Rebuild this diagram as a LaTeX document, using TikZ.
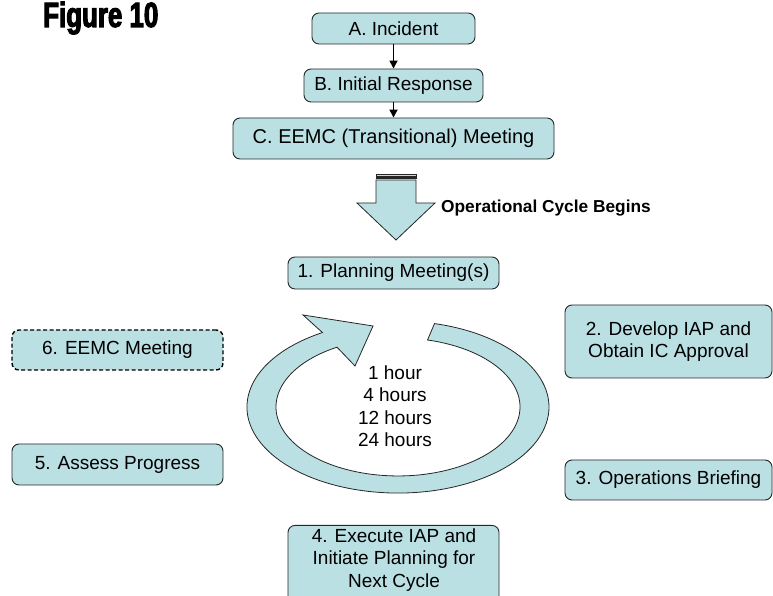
\documentclass[tikz,border=0pt]{standalone}
\usepackage{fontspec}
\setmainfont{Liberation Sans}
\newfontfamily\figfont{Liberation Sans Bold}[FakeStretch=0.74,FakeBold=3]
\usetikzlibrary{arrows.meta}
\definecolor{boxfill}{RGB}{187,224,227}
\begin{document}
\begin{tikzpicture}[x=1pt,y=1pt,
  box/.style={draw=black!85, line width=0.9pt, fill=boxfill, rounded corners=7pt,
    align=center, inner sep=0pt, font=\fontsize{19}{22.5}\selectfont},
  dashbox/.style={box, dashed, dash pattern=on 4pt off 2.5pt, line width=1.4pt, draw=black},
  plain/.style={align=center, inner sep=0pt, font=\fontsize{19}{22.5}\selectfont},
  flow/.style={-{Triangle[length=8pt,width=8pt]}, line width=1.7pt},
  solidshape/.style={draw=black!85, line width=0.8pt, fill=boxfill}]
\useasboundingbox (0,0) rectangle (773,596);
\clip (0,0) rectangle (773,596);

% title
\node[anchor=base west, inner sep=0pt, font=\figfont\fontsize{35}{35}\selectfont] (title) at (43,569) {Figure 10};

% top chain
\node[box, minimum width=163pt, minimum height=31pt] (a) at (393.5,567.5) {A. Incident};
\node[box, minimum width=179pt, minimum height=33pt] (b) at (393.5,510.5) {B. Initial Response};
\node[box, minimum width=321pt, minimum height=41pt, font=\fontsize{20}{23}\selectfont] (c) at (393.5,457.5) {C. EEMC (Transitional) Meeting};
\draw[flow] (a) -- (b);
\draw[flow] (b) -- (c);

% striped block arrow
\draw[solidshape, line width=0.6pt] (376,421.5) rectangle (416,420);
\draw[solidshape, line width=0.6pt] (376,418.8) rectangle (416,417.2);
\draw[solidshape] (376,416) -- (416,416) -- (416,393) -- (435,393) -- (396,356) -- (357,393) -- (376,393) -- cycle;
\node[anchor=west, inner sep=0pt, font=\bfseries\fontsize{17.3}{20}\selectfont] (opc) at (441,388) {Operational Cycle Begins};

% cycle boxes
\node[box, minimum width=211pt, minimum height=32pt] (p1) at (393.5,323) {1. Planning Meeting(s)};
\node[box, minimum width=207pt, minimum height=73pt] (p2) at (668.5,254.5) {2. Develop IAP and\\Obtain IC Approval};
\node[box, minimum width=207pt, minimum height=40pt] (p3) at (668.5,116) {3. Operations Briefing};
\node[box, minimum width=211pt, minimum height=100pt, anchor=north] (p4) at (393.5,71) {};
\node[plain] (p4t) at (394,36) {4. Execute IAP and\\Initiate Planning for\\Next Cycle};
\node[box, minimum width=211pt, minimum height=41pt] (p5) at (117.5,131.5) {5. Assess Progress};
\node[dashbox, minimum width=211pt, minimum height=40pt] (p6) at (117.5,246) {6. EEMC Meeting};

% circular arrow
\draw[solidshape] (434.5,272.4) arc[start angle=76, end angle=-240, x radius=151pt, y radius=86pt]
  -- (303,281) -- (373,270) -- (355,230) -- (337,248.8)
  arc[start angle=-240, end angle=76, x radius=122pt, y radius=69pt] -- cycle;
\node[plain] (hours) at (395,190) {1 hour\\4 hours\\12 hours\\24 hours};
\end{tikzpicture}
\end{document}
